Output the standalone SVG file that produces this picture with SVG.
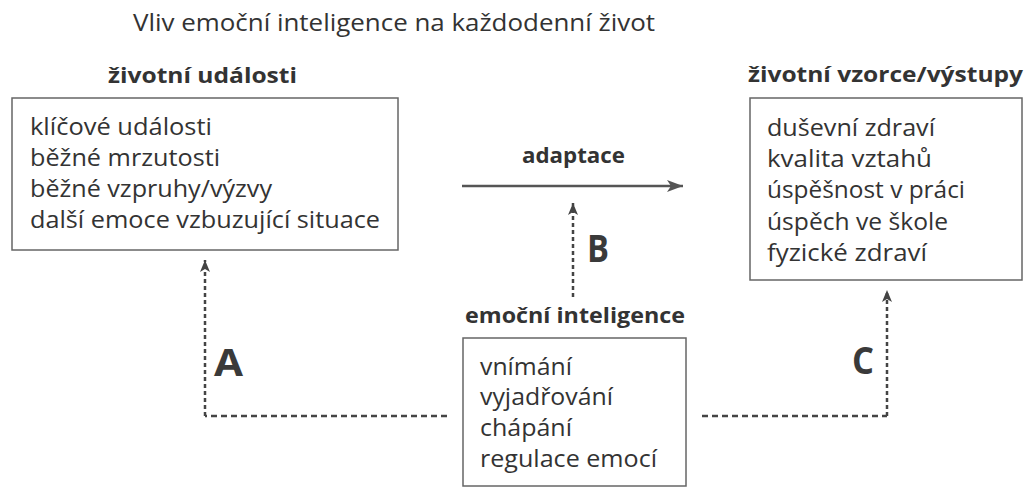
<svg xmlns="http://www.w3.org/2000/svg" width="1025" height="489" viewBox="0 0 1025 489">
<defs>
<style>
text{font-family:"Open Sans","Noto Sans","Liberation Sans",sans-serif;fill:#333;}
.t{font-size:23px;}
.h{font-size:22px;font-weight:700;}
.b{font-size:23px;}
.L{font-size:37px;font-weight:700;fill:#3a3a3a;}
.box{fill:#fff;stroke:#666;stroke-width:1.5;}
.solid{stroke:#555;stroke-width:2.5;fill:none;}
.dv{stroke:#444;stroke-width:2.5;stroke-dasharray:4 3;fill:none;}
.dh{stroke:#444;stroke-width:2.5;stroke-dasharray:6 4;fill:none;}
</style>
<marker id="ah" markerUnits="userSpaceOnUse" markerWidth="18" markerHeight="14" refX="16" refY="7" orient="auto">
<path d="M0,1 L16,7 L0,13 L4,7 Z" fill="#555"/>
</marker>
<marker id="ahs" markerUnits="userSpaceOnUse" markerWidth="14" markerHeight="12" refX="12" refY="6" orient="auto">
<path d="M0,1 L12,6 L0,11 L3,6 Z" fill="#444"/>
</marker>
</defs>
<rect width="1025" height="489" fill="#fff"/>
<text class="t" x="133" y="31" textLength="522" lengthAdjust="spacingAndGlyphs">Vliv emoční inteligence na každodenní život</text>

<g id="zivotni-udalosti">
<text class="h" x="108" y="83" textLength="189" lengthAdjust="spacingAndGlyphs">životní události</text>
<rect class="box" x="12" y="98" width="386" height="152"/>
<text class="b" x="30" y="135" textLength="182" lengthAdjust="spacingAndGlyphs">klíčové události</text>
<text class="b" x="30" y="166" textLength="190" lengthAdjust="spacingAndGlyphs">běžné mrzutosti</text>
<text class="b" x="30" y="197" textLength="242" lengthAdjust="spacingAndGlyphs">běžné vzpruhy/výzvy</text>
<text class="b" x="30" y="228" textLength="350" lengthAdjust="spacingAndGlyphs">další emoce vzbuzující situace</text>
</g>

<g id="zivotni-vzorce">
<text class="h" x="748" y="82" textLength="275" lengthAdjust="spacingAndGlyphs">životní vzorce/výstupy</text>
<rect class="box" x="750" y="98" width="272" height="182"/>
<text class="b" x="767" y="136" textLength="168" lengthAdjust="spacingAndGlyphs">duševní zdraví</text>
<text class="b" x="767" y="167" textLength="165" lengthAdjust="spacingAndGlyphs">kvalita vztahů</text>
<text class="b" x="767" y="198" textLength="198" lengthAdjust="spacingAndGlyphs">úspěšnost v práci</text>
<text class="b" x="767" y="230" textLength="181" lengthAdjust="spacingAndGlyphs">úspěch ve škole</text>
<text class="b" x="767" y="261" textLength="160" lengthAdjust="spacingAndGlyphs">fyzické zdraví</text>
</g>

<g id="emocni-inteligence">
<text class="h" x="465" y="323" textLength="220" lengthAdjust="spacingAndGlyphs">emoční inteligence</text>
<rect class="box" x="463" y="338" width="223" height="148"/>
<text class="b" x="480" y="375" textLength="92" lengthAdjust="spacingAndGlyphs">vnímání</text>
<text class="b" x="480" y="405" textLength="133" lengthAdjust="spacingAndGlyphs">vyjadřování</text>
<text class="b" x="480" y="436" textLength="92" lengthAdjust="spacingAndGlyphs">chápání</text>
<text class="b" x="480" y="467" textLength="177" lengthAdjust="spacingAndGlyphs">regulace emocí</text>
</g>

<g id="connectors">
<line class="solid" x1="462" y1="186" x2="683" y2="186" marker-end="url(#ah)"/>
<text class="h" x="522" y="163" textLength="103" lengthAdjust="spacingAndGlyphs">adaptace</text>
<line class="dv" x1="573" y1="297" x2="573" y2="203" marker-end="url(#ahs)"/>
<text class="L" x="587" y="262" textLength="22" lengthAdjust="spacingAndGlyphs">B</text>
<line class="dh" x1="447" y1="416" x2="205" y2="416"/>
<line class="dv" x1="205" y1="416" x2="205" y2="260" marker-end="url(#ahs)"/>
<text class="L" x="214" y="376" textLength="29" lengthAdjust="spacingAndGlyphs">A</text>
<line class="dh" x1="702" y1="416" x2="887" y2="416"/>
<line class="dv" x1="887" y1="416" x2="887" y2="290" marker-end="url(#ahs)"/>
<text class="L" x="852" y="374" textLength="22" lengthAdjust="spacingAndGlyphs">C</text>
</g>
</svg>
